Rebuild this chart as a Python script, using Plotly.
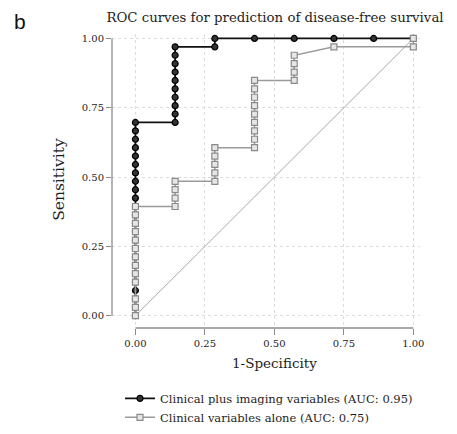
import plotly.graph_objects as go

# ROC coordinates as counts: 33 positives, 7 negatives
N_POS = 33
N_NEG = 7

imaging_fp = [0, 0, 0, 0, 0, 0, 0, 0, 0, 0, 0, 0, 0, 0, 0, 0, 0, 0, 0, 0, 0, 0, 0, 0,
              1, 1, 1, 1, 1, 1, 1, 1, 1, 1,
              2, 2, 3, 4, 5, 6, 7]
imaging_tp = [0, 1, 2, 3, 4, 5, 6, 7, 8, 9, 10, 11, 12, 13, 14, 15, 16, 17, 18, 19, 20, 21, 22, 23,
              23, 24, 25, 26, 27, 28, 29, 30, 31, 32,
              32, 33, 33, 33, 33, 33, 33]

clinical_fp = [0, 0, 0, 0, 0, 0, 0, 0, 0, 0, 0, 0, 0,
               1, 1, 1, 1,
               2, 2, 2, 2, 2,
               3, 3, 3, 3, 3, 3, 3, 3, 3,
               4, 4, 4, 4,
               5, 7, 7]
clinical_tp = [0, 1, 2, 4, 5, 6, 7, 8, 9, 10, 11, 12, 13,
               13, 14, 15, 16,
               16, 17, 18, 19, 20,
               20, 21, 22, 23, 24, 25, 26, 27, 28,
               28, 29, 30, 31,
               32, 32, 33]

tick_vals = [0, 0.25, 0.5, 0.75, 1.0]
tick_text = ["0.00", "0.25", "0.50", "0.75", "1.00"]

label_imaging = "Clinical plus imaging variables (AUC: 0.95)"
label_clinical = "Clinical variables alone (AUC: 0.75)"
title_text = "ROC curves for prediction of disease-free survival"
x_title = "1-Specificity"
y_title = "Sensitivity"

serif = "DejaVu Serif, serif"
txt_col = "#1e1e1e"

fig = go.Figure()

# reference diagonal
fig.add_trace(go.Scatter(x=[0, 1], y=[0, 1], mode="lines",
                         line=dict(color="#a8a8a8", width=1), showlegend=False,
                         hoverinfo="skip"))

fig.add_trace(go.Scatter(
    x=[v / N_NEG for v in imaging_fp], y=[v / N_POS for v in imaging_tp],
    mode="lines+markers", name=label_imaging,
    line=dict(color="#111111", width=1.8),
    marker=dict(symbol="circle", size=6, color="#333333",
                line=dict(color="#000000", width=1.2)),
))

fig.add_trace(go.Scatter(
    x=[v / N_NEG for v in clinical_fp], y=[v / N_POS for v in clinical_tp],
    mode="lines+markers", name=label_clinical,
    line=dict(color="#9a9a9a", width=1.5),
    marker=dict(symbol="square", size=6, color="#e6e6e6",
                line=dict(color="#8a8a8a", width=1.2)),
))

# detached axis lines (Stata style)
axis_col = "#8c8c8c"
fig.add_shape(type="line", xref="x", yref="paper", x0=0, x1=1, y0=0, y1=0,
              line=dict(color=axis_col, width=1.3))
fig.add_shape(type="line", xref="paper", yref="y", x0=0, x1=0, y0=0, y1=1,
              line=dict(color=axis_col, width=1.3))

fig.update_layout(
    width=449, height=426,
    margin=dict(l=104, r=37, t=26, b=106, autoexpand=False),
    paper_bgcolor="white", plot_bgcolor="white",
    font=dict(family=serif, color=txt_col, size=12),
    title=dict(text=title_text, x=0.5947, xanchor="center", y=0.9789, yanchor="middle",
               font=dict(family=serif, size=13.3, color=txt_col)),
    xaxis=dict(range=[-0.0843, 1.024], tickvals=tick_vals, ticktext=tick_text,
               showgrid=True, gridcolor="#dcdcdc", griddash="dot", gridwidth=1,
               zeroline=False, showline=False, ticks="outside", ticklen=6,
               tickcolor=axis_col, tickwidth=1.3, automargin=False,
               tickfont=dict(family=serif, size=10, color=txt_col)),
    yaxis=dict(range=[-0.0443, 1.016], tickvals=tick_vals, ticktext=tick_text,
               showgrid=True, gridcolor="#dcdcdc", griddash="dot", gridwidth=1,
               zeroline=False, showline=False, ticks="outside", ticklen=5,
               tickcolor=axis_col, tickwidth=1.3, automargin=False,
               tickfont=dict(family=serif, size=10, color=txt_col)),
    legend=dict(x=0.026, y=-0.19, xanchor="left", yanchor="top",
                font=dict(family=serif, size=11.5, color=txt_col),
                itemwidth=30, tracegroupgap=0, bgcolor="rgba(0,0,0,0)"),
    showlegend=True,
)

# axis titles centred on the 0-1 axis span
fig.add_annotation(text=x_title, xref="x", yref="paper", x=0.5, y=-0.119,
                   xanchor="center", yanchor="middle", showarrow=False,
                   font=dict(family=serif, size=13.5, color=txt_col))
fig.add_annotation(text=y_title, xref="paper", yref="y", x=-0.172, y=0.49,
                   xanchor="center", yanchor="middle", showarrow=False, textangle=-90,
                   font=dict(family=serif, size=15.5, color=txt_col))

fig.add_annotation(text="b", xref="paper", yref="paper", x=-0.2987, y=1.0884,
                   xanchor="center", yanchor="top", showarrow=False,
                   font=dict(family="Liberation Sans, Arial, sans-serif", size=21, color="#111111"))

fig.write_html("out.html")
